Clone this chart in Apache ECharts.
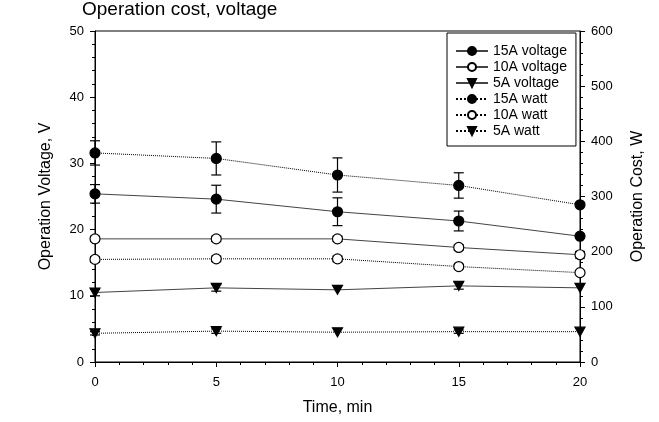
<!DOCTYPE html>
<html>
<head>
<meta charset="utf-8">
<script src="https://cdn.jsdelivr.net/npm/echarts@6/dist/echarts.min.js"></script>
<style>html,body{margin:0;padding:0;background:#fff}#c{width:659px;height:422px}</style>
</head>
<body>
<div id="c"></div>
<script>
var time = [0, 5, 10, 15, 20];
var v15 = [25.4, 24.6, 22.7, 21.3, 19.0];
var v15Err = [1.4, 2.1, 2.1, 1.5, 0];
var v10 = [18.6, 18.6, 18.6, 17.3, 16.2];
var v10Err = [0.4, 0.4, 0.4, 0.4, 0.5];
var v5 = [10.5, 11.2, 10.9, 11.5, 11.2];
var v5Err = [0.5, 0.5, 0, 0.5, 0];
var w15 = [379, 369, 339, 320, 285];
var w15Err = [22, 30, 31, 23, 0];
var w10 = [186, 187, 187, 173, 162];
var w10Err = [5, 5, 5, 4, 0];
var w5 = [52, 56, 54, 55, 55];
var w5Err = [3, 4, 0, 3, 0];
var names = ['15A voltage', '10A voltage', '5A voltage', '15A watt', '10A watt', '5A watt'];

var FONT = 'Liberation Sans, Arial, sans-serif';
function pairs(v) { return time.map(function (t, i) { return [t, v[i]]; }); }
function errData(v, e) { return time.map(function (t, i) { return [t, v[i] - e[i], v[i] + e[i]]; }); }

function lineSeries(name, v, yIdx, symbol, filled, dotted) {
  return {
    name: name, type: 'line', yAxisIndex: yIdx, data: pairs(v),
    symbol: symbol, symbolSize: symbol === 'triangle' ? [10, 9] : 10,
    symbolRotate: symbol === 'triangle' ? 180 : 0,
    itemStyle: { color: filled ? '#000' : '#fff', borderColor: '#000', borderWidth: 1.2 },
    lineStyle: { color: dotted ? '#000' : '#444', width: 1, type: dotted ? 'dotted' : 'solid' },
    z: 5, animation: false
  };
}
function errSeries(v, e, yIdx) {
  return {
    type: 'custom', yAxisIndex: yIdx, data: errData(v, e), z: 3, silent: true, animation: false,
    renderItem: function (params, api) {
      var x = api.value(0), lo = api.value(1), hi = api.value(2);
      if (hi - lo <= 0) return null;
      var p1 = api.coord([x, lo]), p2 = api.coord([x, hi]);
      var w = 5;
      var st = { stroke: '#000', lineWidth: 1.2, fill: null };
      return {
        type: 'group', children: [
          { type: 'line', shape: { x1: p1[0], y1: p1[1], x2: p2[0], y2: p2[1] }, style: st },
          { type: 'line', shape: { x1: p1[0] - w, y1: p1[1], x2: p1[0] + w, y2: p1[1] }, style: st },
          { type: 'line', shape: { x1: p2[0] - w, y1: p2[1], x2: p2[0] + w, y2: p2[1] }, style: st }
        ]
      };
    }
  };
}

var axisCommon = {
  axisLine: { show: true, lineStyle: { color: '#000', width: 1 } },
  axisTick: { show: true, inside: false, length: 5, lineStyle: { color: '#000' } },
  minorTick: { show: true, splitNumber: 5, length: 3, lineStyle: { color: '#000' } },
  splitLine: { show: false },
  axisLabel: { color: '#000', fontFamily: FONT, fontSize: 13 },
  nameTextStyle: { color: '#000', fontFamily: FONT, fontSize: 16 }
};

var chart = echarts.init(document.getElementById('c'), null, { renderer: 'canvas' });
chart.setOption({
  animation: false,
  backgroundColor: '#fff',
  title: { text: 'Operation cost, voltage', left: 82, top: 0, padding: 0,
    textStyle: { fontFamily: FONT, fontSize: 19, fontWeight: 'normal', color: '#000' } },
  grid: { left: 95, right: 79, top: 31, bottom: 60, show: true, borderColor: '#000', borderWidth: 1 },
  legend: {
    data: names, orient: 'vertical', left: 447, top: 33,
    padding: [10, 9, 7, 8], itemGap: 0, itemWidth: 32, itemHeight: 10,
    borderColor: '#000', borderWidth: 1, backgroundColor: '#fff',
    textStyle: { fontFamily: FONT, fontSize: 14, lineHeight: 16, color: '#000' }, selectedMode: false
  },
  xAxis: Object.assign({}, axisCommon, {
    type: 'value', min: 0, max: 20, interval: 5, name: 'Time, min',
    nameLocation: 'middle', nameGap: 38,
    axisLabel: Object.assign({}, axisCommon.axisLabel, { margin: 14 })
  }),
  yAxis: [
    Object.assign({}, axisCommon, {
      type: 'value', min: 0, max: 50, interval: 10, name: 'Operation Voltage, V',
      nameLocation: 'middle', nameGap: 41, position: 'left',
      axisLabel: Object.assign({}, axisCommon.axisLabel, { margin: 11 })
    }),
    Object.assign({}, axisCommon, {
      type: 'value', min: 0, max: 600, interval: 100, name: 'Operation Cost, W',
      nameLocation: 'middle', nameGap: 50, position: 'right',
      axisLabel: Object.assign({}, axisCommon.axisLabel, { margin: 11 })
    })
  ],
  series: [
    lineSeries(names[0], v15, 0, 'circle', true, false),
    lineSeries(names[1], v10, 0, 'circle', false, false),
    lineSeries(names[2], v5, 0, 'triangle', true, false),
    lineSeries(names[3], w15, 1, 'circle', true, true),
    lineSeries(names[4], w10, 1, 'circle', false, true),
    lineSeries(names[5], w5, 1, 'triangle', true, true),
    errSeries(v15, v15Err, 0), errSeries(v10, v10Err, 0), errSeries(v5, v5Err, 0),
    errSeries(w15, w15Err, 1), errSeries(w10, w10Err, 1), errSeries(w5, w5Err, 1)
  ]
});
</script>
</body>
</html>
